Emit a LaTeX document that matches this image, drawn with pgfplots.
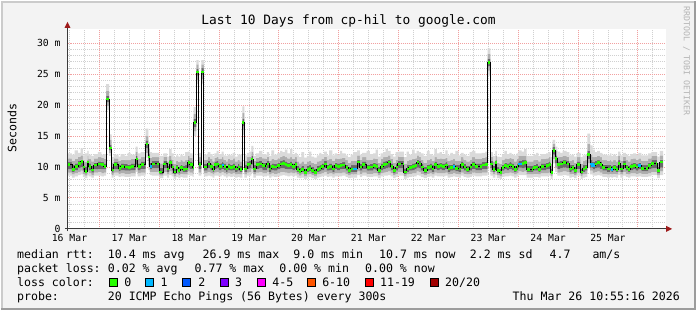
\documentclass[border=0pt]{standalone}
\usepackage{fontspec}
\setmainfont{DejaVu Sans Mono}
\usepackage{pgfplots}
\pgfplotsset{compat=1.18}
\usepackage{pgfplotstable}

\definecolor{bgc}{HTML}{F3F3F3}
\definecolor{shadea}{HTML}{CBCBCB}
\definecolor{shadeb}{HTML}{9C9C9C}
\definecolor{gridc}{HTML}{D0D0D0}
\definecolor{mgridc}{HTML}{F2A0A0}
\definecolor{arrowc}{HTML}{9E1B1B}
\definecolor{axisc}{HTML}{3A3A3A}
\definecolor{smokeA}{HTML}{DADADA}
\definecolor{smokeB}{HTML}{AEAEAE}
\definecolor{smokeC}{HTML}{6A6A6A}
\definecolor{wmc}{HTML}{B4B4B4}
\definecolor{lossA}{HTML}{26FF00}
\definecolor{lossB}{HTML}{00B8FF}
\definecolor{lossC}{HTML}{0059FF}
\definecolor{lossD}{HTML}{7E00FF}
\definecolor{lossE}{HTML}{FF00FF}
\definecolor{lossF}{HTML}{FF5500}
\definecolor{lossG}{HTML}{FF0000}
\definecolor{lossH}{HTML}{A10000}

\newcommand\lf{\fontsize{11.6}{12}\selectfont}

\pgfplotstableread{
h med lo3 lo2 lo1 hi1 hi2 hi3
11.2 10.4 8.6 9.1 9.6 10.8 11.4 12.2
13.0 9.6 8.3 8.8 9.2 10.3 11.0 12.0
14.1 10.1 8.5 9.0 9.5 10.6 11.3 12.7
15.4 10.6 8.7 9.2 9.8 11.0 11.7 12.3
16.5 10.9 8.8 9.4 10.0 11.2 11.9 13.0
17.4 10.0 8.4 8.9 9.4 10.5 11.2 11.9
18.1 9.3 8.2 8.6 9.0 10.1 10.8 12.2
19.2 10.8 8.7 9.3 9.9 11.1 11.8 12.6
19.7 10.1 8.5 9.0 9.5 10.6 11.3 12.0
20.8 9.5 8.3 8.7 9.1 10.2 10.9 11.8
21.8 10.3 8.6 9.1 9.6 10.7 11.4 12.1
23.4 10.5 8.6 9.2 9.7 10.9 11.6 12.4
24.8 10.4 8.5 9.0 9.6 10.8 11.5 12.0
25.8 10.1 8.6 9.1 9.6 10.6 11.3 12.1
26.7 21.0 19.2 19.9 20.5 21.5 22.3 23.4
27.9 13.1 11.8 12.3 12.7 13.6 14.4 15.3
28.9 9.5 8.3 8.7 9.1 10.0 10.7 11.6
29.7 10.4 8.6 9.1 9.6 10.8 11.4 12.0
31.7 9.8 8.4 8.9 9.3 10.3 11.0 11.7
32.5 10.1 8.5 9.0 9.5 10.6 11.2 12.1
34.1 10.0 8.4 8.9 9.4 10.5 11.1 11.8
35.3 9.9 8.4 8.9 9.4 10.4 11.1 12.3
36.5 10.1 8.5 9.0 9.5 10.6 11.3 12.0
38.5 11.3 9.2 9.8 10.4 11.8 12.5 13.3
39.3 10.1 8.5 9.0 9.5 10.6 11.3 12.2
40.5 10.4 8.6 9.1 9.7 10.9 11.6 12.4
42.5 13.7 11.5 12.3 13.0 14.3 15.0 16.2
43.6 11.6 9.5 10.3 11.0 12.2 13.0 14.0
44.2 10.1 8.7 9.2 9.6 10.7 11.5 12.4
45.0 10.5 8.6 9.2 9.8 11.0 11.6 12.3
48.1 9.2 8.2 8.6 8.9 9.9 10.6 11.8
49.7 10.5 8.6 9.2 9.8 11.0 11.7 12.2
51.2 9.7 8.3 8.8 9.2 10.2 10.9 11.7
52.0 10.7 8.7 9.3 9.9 11.1 11.8 12.9
53.0 10.0 8.5 8.9 9.4 10.5 11.2 12.2
53.8 9.2 8.1 8.5 8.9 9.8 10.5 11.6
54.8 9.9 8.4 8.9 9.4 10.4 11.0 11.9
55.7 9.4 8.2 8.7 9.0 10.0 10.8 11.7
56.5 9.9 8.4 8.9 9.4 10.4 11.1 12.0
57.4 9.6 8.3 8.8 9.2 10.2 10.9 11.8
58.4 9.7 8.3 8.8 9.2 10.3 11.1 12.4
59.4 10.7 8.7 9.3 9.9 11.1 11.8 12.5
60.2 10.4 8.6 9.1 9.7 10.9 11.5 12.2
61.4 9.9 8.4 8.9 9.4 10.4 11.1 11.9
61.8 17.2 15.0 15.8 16.5 17.8 18.6 19.7
62.9 25.4 23.4 24.1 24.8 25.9 26.6 27.3
63.8 10.4 8.6 9.1 9.7 10.9 11.6 12.3
64.9 25.4 23.5 24.2 24.9 26.0 26.6 27.3
65.9 10.0 8.5 9.0 9.4 10.5 11.2 12.0
67.4 10.5 8.6 9.2 9.8 11.0 11.6 12.4
68.5 10.1 8.5 9.0 9.5 10.6 11.3 12.1
69.4 9.6 8.3 8.8 9.2 10.2 10.9 11.8
70.1 10.4 8.6 9.1 9.7 10.9 11.5 12.2
71.0 10.5 8.6 9.2 9.8 11.0 11.7 12.6
71.8 10.1 8.5 9.0 9.5 10.6 11.3 12.1
73.0 10.3 8.7 9.2 9.7 10.8 11.6 12.5
73.8 10.1 8.5 9.0 9.5 10.6 11.2 11.9
74.8 9.7 8.3 8.8 9.2 10.2 10.9 11.8
75.4 10.1 8.5 9.0 9.5 10.6 11.3 12.0
76.5 9.9 8.4 8.9 9.4 10.4 11.1 11.9
77.4 10.1 8.5 9.0 9.5 10.6 11.4 12.3
78.4 9.7 8.3 8.8 9.2 10.2 10.9 11.7
79.4 10.0 8.4 8.9 9.4 10.5 11.2 12.0
80.2 9.6 8.3 8.8 9.2 10.2 10.9 12.0
81.3 17.2 15.2 16.0 16.6 17.8 18.7 19.8
82.1 9.7 8.3 8.8 9.2 10.3 11.0 11.9
83.2 10.4 8.6 9.1 9.7 10.9 11.6 12.3
84.1 10.5 8.6 9.2 9.8 11.0 11.7 12.5
85.0 11.3 9.0 9.7 10.4 11.8 12.5 13.4
85.8 9.7 8.3 8.8 9.2 10.3 11.0 11.8
86.8 10.4 8.6 9.1 9.7 10.9 11.5 12.2
88.1 10.5 8.6 9.2 9.8 11.0 11.7 12.6
89.4 10.2 8.5 9.0 9.5 10.7 11.4 12.1
90.8 10.1 8.5 9.0 9.5 10.6 11.3 12.0
91.2 10.5 8.6 9.2 9.8 11.0 11.7 12.4
92.1 9.7 8.3 8.8 9.2 10.3 11.0 11.8
93.0 10.1 8.5 9.0 9.5 10.6 11.3 12.7
94.1 10.0 8.4 8.9 9.4 10.5 11.2 12.0
95.4 10.2 8.5 9.0 9.6 10.7 11.4 12.3
96.5 10.5 8.6 9.2 9.8 11.0 11.7 12.6
97.4 10.6 8.7 9.2 9.8 11.1 11.8 12.4
98.4 10.4 8.6 9.1 9.7 10.9 11.6 12.8
99.4 10.2 8.5 9.0 9.6 10.7 11.4 12.2
100.5 10.4 8.6 9.1 9.7 10.9 11.6 12.9
101.4 10.1 8.5 9.0 9.5 10.6 11.3 12.1
102.4 10.4 8.6 9.1 9.7 10.9 11.6 12.3
103.2 9.6 8.3 8.8 9.2 10.2 10.9 11.9
104.1 9.3 8.2 8.6 9.0 9.9 10.6 11.6
105.0 9.6 8.3 8.8 9.2 10.2 10.9 12.4
106.1 9.1 8.1 8.5 8.8 9.7 10.5 11.5
107.2 9.6 8.3 8.8 9.2 10.2 10.9 11.8
108.1 9.8 8.4 8.9 9.3 10.3 11.0 12.5
109.0 9.4 8.2 8.7 9.0 10.0 10.7 11.7
110.1 9.1 8.1 8.5 8.8 9.7 10.5 11.5
111.2 9.6 8.3 8.8 9.2 10.2 10.9 11.9
112.2 9.8 8.4 8.9 9.3 10.3 11.0 12.3
113.0 10.1 8.5 9.0 9.5 10.6 11.3 12.1
114.1 10.5 8.6 9.2 9.8 11.0 11.7 12.5
115.2 9.9 8.4 8.9 9.4 10.4 11.1 11.9
116.1 10.1 8.5 9.0 9.5 10.6 11.3 12.7
117.4 9.7 8.3 8.8 9.2 10.3 11.0 11.9
118.4 10.2 8.5 9.0 9.6 10.7 11.4 12.2
119.4 10.1 8.5 9.0 9.5 10.6 11.3 12.0
120.5 10.2 8.5 9.0 9.6 10.7 11.4 12.6
121.4 10.3 8.6 9.1 9.7 10.8 11.5 12.2
122.8 9.9 8.4 8.9 9.4 10.4 11.1 11.9
123.7 9.4 8.2 8.7 9.0 10.0 10.7 11.6
124.8 9.7 8.3 8.8 9.2 10.3 11.0 12.0
125.8 9.7 8.3 8.8 9.2 10.3 11.0 12.4
127.4 10.8 8.7 9.3 9.9 11.2 11.9 12.7
128.5 10.0 8.4 8.9 9.4 10.5 11.2 12.0
129.4 10.4 8.6 9.1 9.7 10.9 11.6 12.3
131.2 9.9 8.4 8.9 9.4 10.4 11.1 12.6
132.5 10.0 8.4 8.9 9.4 10.5 11.2 12.1
133.8 10.2 8.5 9.0 9.6 10.7 11.4 12.2
134.8 10.1 8.5 9.0 9.5 10.6 11.3 12.8
135.7 9.4 8.2 8.7 9.0 10.0 10.7 11.7
136.8 10.1 8.5 9.0 9.5 10.6 11.3 12.2
137.8 10.4 8.6 9.1 9.7 10.9 11.6 12.4
138.8 10.5 8.6 9.2 9.8 11.0 11.7 12.9
139.7 10.8 8.7 9.3 9.9 11.2 11.9 12.6
140.8 10.1 8.5 9.0 9.5 10.6 11.3 12.1
141.8 9.4 8.2 8.7 9.0 10.0 10.7 11.7
142.8 10.0 8.4 8.9 9.4 10.5 11.2 12.4
143.7 10.5 8.6 9.2 9.8 11.0 11.7 12.5
146.1 9.2 8.1 8.5 8.9 9.8 10.5 11.6
147.2 9.7 8.3 8.8 9.2 10.3 11.0 12.5
148.1 9.9 8.4 8.9 9.4 10.4 11.1 12.0
149.4 10.1 8.5 9.0 9.5 10.6 11.3 12.8
150.4 10.2 8.5 9.0 9.6 10.7 11.4 12.2
151.2 10.8 8.7 9.3 9.9 11.2 11.9 12.6
152.1 10.5 8.6 9.2 9.8 11.0 11.7 12.4
153.0 10.0 8.4 8.9 9.4 10.5 11.2 12.2
154.1 9.4 8.2 8.7 9.0 10.0 10.7 11.8
155.4 9.9 8.4 8.9 9.4 10.4 11.1 12.6
156.5 10.1 8.5 9.0 9.5 10.6 11.3 12.1
157.4 9.7 8.3 8.8 9.2 10.3 11.0 11.9
158.4 10.4 8.6 9.1 9.7 10.9 11.6 12.9
159.4 10.1 8.5 9.0 9.5 10.6 11.3 12.2
160.5 10.2 8.5 9.0 9.6 10.7 11.4 12.4
161.4 10.1 8.5 9.0 9.5 10.6 11.3 12.0
162.8 10.3 8.6 9.1 9.7 10.8 11.5 12.7
163.7 9.7 8.3 8.8 9.2 10.3 11.0 11.9
164.8 9.9 8.4 8.9 9.4 10.4 11.1 12.3
165.8 10.1 8.5 9.0 9.5 10.6 11.3 12.1
166.8 9.8 8.4 8.9 9.3 10.3 11.0 12.6
168.1 9.7 8.3 8.8 9.2 10.3 11.0 11.9
169.0 10.4 8.6 9.1 9.7 10.9 11.6 12.3
170.1 10.0 8.4 8.9 9.4 10.5 11.2 12.0
171.2 9.6 8.3 8.8 9.2 10.2 10.9 11.8
172.5 10.0 8.4 8.9 9.4 10.5 11.2 12.4
173.4 10.4 8.6 9.1 9.7 10.9 11.6 12.6
174.8 10.1 8.5 9.0 9.5 10.6 11.3 12.2
177.4 10.3 8.6 9.1 9.7 10.8 11.5 12.3
178.8 10.4 8.6 9.1 9.7 10.9 11.6 12.5
179.7 26.9 24.8 25.6 26.3 27.5 28.3 29.2
180.8 10.5 8.6 9.2 9.8 11.0 11.7 12.4
181.8 9.6 8.3 8.8 9.2 10.2 10.9 11.8
182.8 10.7 8.7 9.3 9.9 11.1 11.8 12.6
183.4 9.4 8.2 8.7 9.0 10.0 10.7 11.7
184.5 9.1 8.1 8.5 8.8 9.7 10.5 11.6
185.4 9.9 8.4 8.9 9.4 10.4 11.1 12.0
186.4 10.2 8.5 9.0 9.6 10.7 11.4 12.6
187.4 10.1 8.5 9.0 9.5 10.6 11.3 12.1
188.5 10.3 8.6 9.1 9.7 10.8 11.5 12.3
189.4 10.1 8.5 9.0 9.5 10.6 11.3 12.0
190.4 9.6 8.3 8.8 9.2 10.2 10.9 11.9
191.4 10.1 8.5 9.0 9.5 10.6 11.3 12.2
192.1 10.5 8.7 9.3 9.9 11.0 11.8 12.7
193.4 10.6 8.7 9.2 9.8 11.1 11.8 12.5
194.4 10.7 8.7 9.3 9.9 11.1 11.8 12.9
195.4 9.6 8.3 8.8 9.2 10.2 10.9 11.8
198.1 9.9 8.4 8.9 9.4 10.4 11.1 12.0
199.2 10.0 8.4 8.9 9.4 10.5 11.2 12.3
200.1 9.6 8.3 8.8 9.2 10.2 10.9 11.8
201.0 10.1 8.5 9.0 9.5 10.6 11.3 12.1
203.2 10.2 8.5 9.0 9.6 10.7 11.4 12.2
204.2 10.4 8.6 9.1 9.7 10.9 11.6 12.4
205.0 9.1 8.1 8.5 8.8 9.7 10.5 11.6
205.8 12.7 10.6 11.3 12.0 13.2 13.8 14.4
206.8 11.4 9.2 9.9 10.6 11.9 12.6 13.3
207.7 10.4 8.6 9.1 9.7 10.9 11.6 12.5
208.8 10.5 8.6 9.2 9.8 11.0 11.7 12.3
209.8 10.7 8.7 9.3 9.9 11.1 11.8 12.6
211.4 10.5 8.6 9.2 9.8 11.0 11.7 12.4
212.5 9.7 8.3 8.8 9.2 10.3 11.0 11.9
213.4 9.9 8.4 8.9 9.4 10.4 11.1 12.0
214.4 9.4 8.2 8.7 9.0 10.0 10.7 11.7
215.4 10.4 8.6 9.1 9.7 10.9 11.6 12.3
217.0 9.2 8.1 8.5 8.9 9.8 10.5 11.6
217.8 9.7 8.3 8.8 9.2 10.3 11.0 11.9
218.8 9.9 8.4 8.9 9.4 10.4 11.1 12.0
219.7 12.0 9.8 10.6 11.3 12.6 13.8 15.4
220.8 10.5 8.8 9.4 9.9 11.1 12.0 13.5
221.8 10.2 8.6 9.1 9.6 10.8 11.6 12.8
222.8 10.5 8.6 9.2 9.8 11.0 11.7 12.4
223.7 10.7 8.7 9.3 9.9 11.1 11.8 12.6
224.8 10.4 8.6 9.1 9.7 10.9 11.6 12.3
225.8 9.9 8.4 8.9 9.4 10.4 11.1 12.0
227.7 9.7 8.3 8.8 9.2 10.3 11.0 11.9
228.8 9.9 8.4 8.9 9.4 10.4 11.1 12.2
229.4 9.6 8.3 8.8 9.2 10.2 10.9 11.8
230.1 9.9 8.4 8.9 9.4 10.4 11.1 12.0
231.2 9.6 8.3 8.8 9.2 10.2 10.9 11.8
232.1 10.6 8.7 9.2 9.8 11.1 11.8 12.5
233.0 9.7 8.3 8.8 9.2 10.3 11.0 11.9
234.1 10.5 8.6 9.2 9.8 11.0 11.7 12.3
235.2 9.9 8.4 8.9 9.4 10.4 11.1 12.0
236.1 9.6 8.3 8.8 9.2 10.2 10.9 11.8
237.0 10.1 8.5 9.0 9.5 10.6 11.3 12.1
238.1 10.2 8.5 9.0 9.6 10.7 11.4 12.2
239.2 10.0 8.4 8.9 9.4 10.5 11.2 12.0
240.2 10.2 8.5 9.0 9.6 10.7 11.4 12.3
241.4 9.8 8.4 8.9 9.3 10.3 11.0 11.9
244.1 10.2 8.5 9.0 9.6 10.7 11.4 12.2
245.4 10.6 8.7 9.2 9.8 11.1 11.8 12.4
247.7 9.4 8.2 8.7 9.0 10.0 10.7 11.7
248.8 10.8 8.7 9.3 9.9 11.2 11.9 12.6
250.1 10.8 8.7 9.3 9.9 11.2 11.9 12.6
}\rtt

\pgfplotstableread{
h v
44.2 10.1
45.0 10.1
45.0 nan
73.0 10.3
73.8 10.3
73.8 nan
125.8 9.7
127.4 9.7
127.4 nan
165.8 10.1
166.8 10.1
166.8 nan
192.1 10.5
193.4 10.5
193.4 nan
220.8 10.5
221.8 10.5
221.8 10.2
222.8 10.2
222.8 nan
229.4 9.6
230.1 9.6
230.1 nan
240.2 10.2
241.4 10.2
}\bluetab

\begin{document}
\begin{tikzpicture}
\fill[bgc] (0,0) rectangle (697pt,310pt);
\draw[shadea, line width=2pt] (1pt,0) -- (1pt,309pt) -- (697pt,309pt);
\draw[shadeb, line width=2pt] (0,1pt) -- (696pt,1pt) -- (696pt,310pt);
\fill[white] (66.7pt,81.5pt) rectangle (666.7pt,281.5pt);

\begin{axis}[
  at={(66.7pt,81.5pt)}, anchor=south west,
  scale only axis, width=600pt, height=200pt,
  xmin=11.2, xmax=251.2, ymin=0, ymax=32.26,
  axis line style={draw=none},
  xtick={12,36,...,228},
  xticklabels={16 Mar,17 Mar,18 Mar,19 Mar,20 Mar,21 Mar,22 Mar,23 Mar,24 Mar,25 Mar},
  minor xtick={12,18,...,246},
  extra x ticks={24,48,...,240},
  extra x tick labels={},
  extra x tick style={grid=major},
  xminorgrids=true, xmajorgrids=false,
  ytick={0,5,...,30},
  yticklabels={0,5 m,10 m,15 m,20 m,25 m,30 m},
  minor y tick num=4,
  ymajorgrids=true, yminorgrids=true,
  major grid style={mgridc, line width=0.9pt, dash pattern=on 1pt off 1pt},
  minor grid style={gridc, line width=0.9pt, dash pattern=on 1pt off 1pt},
  tick style={draw=none},
  /pgf/number format/assume math mode=true,
  ticklabel style={font=\fontsize{9.8}{10}\selectfont},
  xticklabel style={anchor=base, inner sep=0pt, yshift=-12.5pt},
  yticklabel style={anchor=east, inner sep=0pt, xshift=-6.7pt},
]
\addplot[draw=none, fill=none, const plot, stack plots=y] table[x=h,y=lo3]{\rtt} \closedcycle;
\addplot[draw=none, fill=smokeA, const plot, stack plots=y] table[x=h,y expr=\thisrow{lo2}-\thisrow{lo3}]{\rtt} \closedcycle;
\addplot[draw=none, fill=smokeB, const plot, stack plots=y] table[x=h,y expr=\thisrow{lo1}-\thisrow{lo2}]{\rtt} \closedcycle;
\addplot[draw=none, fill=smokeC, const plot, stack plots=y] table[x=h,y expr=\thisrow{hi1}-\thisrow{lo1}]{\rtt} \closedcycle;
\addplot[draw=none, fill=smokeB, const plot, stack plots=y] table[x=h,y expr=\thisrow{hi2}-\thisrow{hi1}]{\rtt} \closedcycle;
\addplot[draw=none, fill=smokeA, const plot, stack plots=y] table[x=h,y expr=\thisrow{hi3}-\thisrow{hi2}]{\rtt} \closedcycle;
\addplot[const plot, black, line width=0.9pt] table[x=h,y=med]{\rtt};
\addplot[jump mark left, lossA, line width=2.6pt, dash pattern=on 3pt off 2pt] table[x=h,y=med]{\rtt};
\addplot[lossB, line width=2.6pt, unbounded coords=jump] table[x=h,y=v]{\bluetab};
\end{axis}

% axes
\draw[axisc, line width=1pt] (64pt,81.5pt) -- (668pt,81.5pt);
\fill[arrowc] (667pt,84.5pt) -- (673pt,81.5pt) -- (667pt,78.5pt) -- cycle;
\draw[axisc, line width=1pt] (66.7pt,79pt) -- (66.7pt,284pt);
\fill[arrowc] (63.7pt,283pt) -- (66.7pt,289pt) -- (69.7pt,283pt) -- cycle;

% titles
\node[anchor=base, inner sep=0pt, font=\fontsize{12.9}{13}\selectfont] at (348.5pt,286pt) {Last 10 Days from cp-hil to google.com};
\node[rotate=90, inner sep=0pt, font=\lf] at (11pt,182.5pt) {Seconds};
\node[rotate=-90, anchor=west, inner sep=0pt, text=wmc, font=\fontsize{8.3}{9}\selectfont] at (687.5pt,305pt) {RRDTOOL / TOBI OETIKER};

% legend lines
\begin{scope}[every node/.style={anchor=base west, inner sep=0pt, font=\lf}]
\node at (16pt,51.5pt) {median rtt:};
\node at (107pt,51.5pt) {10.4 ms avg};
\node at (202pt,51.5pt) {26.9 ms max};
\node at (293pt,51.5pt) {9.0 ms min};
\node at (379pt,51.5pt) {10.7 ms now};
\node at (470pt,51.5pt) {2.2 ms sd};
\node at (550pt,51.5pt) {4.7};
\node at (593pt,51.5pt) {am/s};

\node at (16pt,37.5pt) {packet loss:};
\node at (107pt,37.5pt) {0.02 \% avg};
\node at (194pt,37.5pt) {0.77 \% max};
\node at (279pt,37.5pt) {0.00 \% min};
\node at (365pt,37.5pt) {0.00 \% now};

\node at (16pt,23.5pt) {loss color:};
\node at (123.6pt,23.5pt) {0};
\node at (160pt,23.5pt) {1};
\node at (197.8pt,23.5pt) {2};
\node at (234.7pt,23.5pt) {3};
\node at (272pt,23.5pt) {4-5};
\node at (322pt,23.5pt) {6-10};
\node at (380pt,23.5pt) {11-19};
\node at (445.3pt,23.5pt) {20/20};

\node at (16pt,9.5pt) {probe:};
\node at (107pt,9.5pt) {20 ICMP Echo Pings (56 Bytes) every 300s};
\node[anchor=base east] at (681pt,9.5pt) {Thu Mar 26 10:55:16 2026};
\end{scope}

\begin{scope}[line width=0.8pt]
\draw[fill=lossA] (108.5pt,23.7pt) rectangle ++(8pt,8pt);
\draw[fill=lossB] (145.3pt,23.7pt) rectangle ++(8pt,8pt);
\draw[fill=lossC] (182.2pt,23.7pt) rectangle ++(8pt,8pt);
\draw[fill=lossD] (219.6pt,23.7pt) rectangle ++(8pt,8pt);
\draw[fill=lossE] (256.9pt,23.7pt) rectangle ++(8pt,8pt);
\draw[fill=lossF] (307pt,23.7pt) rectangle ++(8pt,8pt);
\draw[fill=lossG] (365.3pt,23.7pt) rectangle ++(8pt,8pt);
\draw[fill=lossH] (430.2pt,23.7pt) rectangle ++(8pt,8pt);
\end{scope}
\end{tikzpicture}
\end{document}
